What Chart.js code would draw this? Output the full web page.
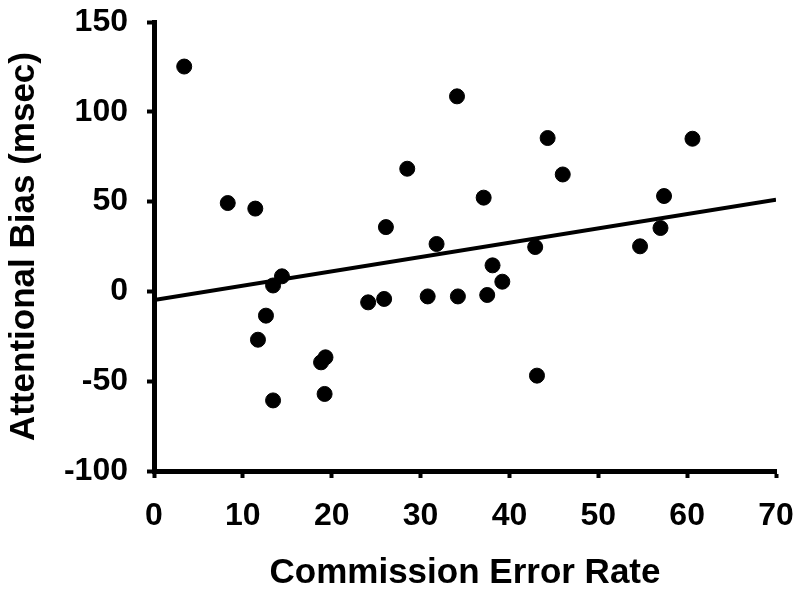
<!DOCTYPE html>
<html>
<head>
<meta charset="utf-8">
<script src="https://cdn.jsdelivr.net/npm/chart.js@4"></script>
<style>
  body { margin: 0; background: #fff; }
</style>
</head>
<body>
<canvas id="scatter" width="800" height="594"></canvas>
<script>
// values
var errorRate = [3.4, 8.3, 11.4, 11.7, 12.6, 13.4, 13.4, 14.4, 18.8, 19.3, 19.2,
                 24.1, 25.9, 26.1, 28.5, 30.8, 31.8, 34.1, 34.2, 37.1, 37.5, 38.1,
                 39.2, 42.9, 43.1, 44.3, 46.0, 54.7, 57.0, 57.4, 60.6];
var bias = [125.2, 49.2, 46.1, -26.9, -13.5, 3.3, -60.7, 8.4, -39.5, -36.7, -57.1,
            -6.1, -4.2, 35.8, 68.3, -2.8, 26.4, 108.6, -2.8, 52.2, -2.0, 14.5,
            5.4, 24.7, -46.9, 85.4, 65.1, 25.1, 35.3, 53.1, 85.0];
var trendX = [0, 70];
var trendY = [-4.8, 51];
var xTicks = [0, 10, 20, 30, 40, 50, 60, 70];
var yTicks = [-100, -50, 0, 50, 100, 150];

var points = errorRate.map(function (x, i) { return { x: x, y: bias[i] }; });
var trend = trendX.map(function (x, i) { return { x: x, y: trendY[i] }; });

var fontTick = { family: "'Liberation Sans', Arial", size: 32, weight: 'bold' };
var fontTitle = { family: "'Liberation Sans', Arial", size: 35, weight: 'bold' };

// fixed axis boxes, no extra room for end labels
function fixBox(s, w, h) {
    if (w) s.width = w;
    if (h) s.height = h;
    s.paddingTop = 0;
    s.paddingBottom = 0;
    s.paddingLeft = 0;
    s.paddingRight = 0;
}

new Chart(document.getElementById("scatter"), {
    type: 'scatter',
    data: {
        datasets: [{
            data: points,
            backgroundColor: "#000",
            borderColor: "#000",
            pointRadius: 7.5,
            pointHoverRadius: 7.5
        }, {
            type: 'line',
            data: trend,
            borderColor: "#000",
            borderWidth: 4,
            pointRadius: 0,
            fill: false
        }]
    },
    options: {
        responsive: false,
        animation: false,
        layout: { padding: { top: 22, right: 24, left: 0, bottom: 0 } },
        plugins: {
            legend: { display: false },
            tooltip: { enabled: false }
        },
        scales: {
            x: {
                type: 'linear',
                min: xTicks[0],
                max: xTicks[xTicks.length - 1],
                afterFit: function (s) { fixBox(s, 0, 123); },
                afterBuildTicks: function (s) { s.ticks = xTicks.map(function (v) { return { value: v }; }); },
                border: { color: "#000", width: 5 },
                grid: { drawOnChartArea: false, tickLength: 7, tickWidth: 4, tickColor: "#000" },
                ticks: { color: "#000", font: fontTick, padding: 19, maxRotation: 0 },
                title: { display: true, text: 'Commission Error Rate', color: "#000", font: fontTitle, padding: 0 }
            },
            y: {
                min: yTicks[0],
                max: yTicks[yTicks.length - 1],
                afterFit: function (s) { fixBox(s, 154, 0); },
                afterBuildTicks: function (s) { s.ticks = yTicks.map(function (v) { return { value: v }; }); },
                border: { color: "#000", width: 5 },
                grid: { drawOnChartArea: false, tickLength: 7, tickWidth: 4, tickColor: "#000" },
                ticks: { color: "#000", font: fontTick, padding: 19 },
                title: { display: true, text: 'Attentional Bias (msec)', color: "#000", font: fontTitle, padding: { top: 3, bottom: 0 } }
            }
        }
    }
});
</script>
</body>
</html>
